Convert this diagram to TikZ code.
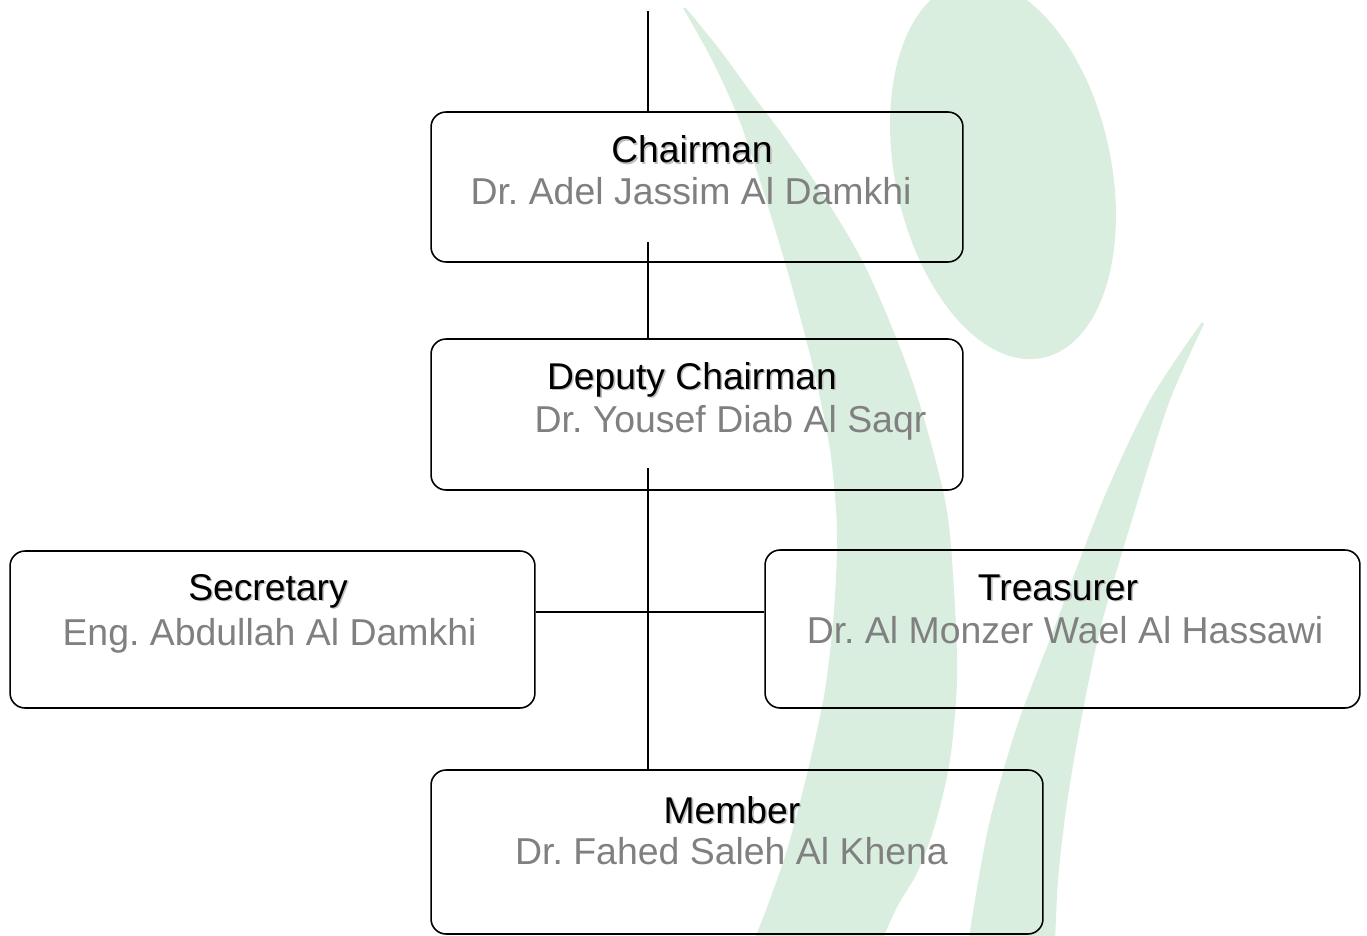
\documentclass[tikz,border=0pt]{standalone}
\usepackage{fontspec}
\setmainfont{Liberation Sans}
\frenchspacing
\definecolor{leaf}{RGB}{217,238,223}
\definecolor{namegray}{RGB}{128,128,128}
\newcommand{\shadowed}[1]{\makebox[0pt][l]{\kern0.9pt\raisebox{-0.9pt}{\color{black!25}#1}}#1}
\tikzset{
  post/.style={draw, line width=0.9pt, rounded corners=0.3cm, inner sep=0pt},
  role/.style={anchor=base, inner sep=0pt, font=\fontsize{21.2}{25}\selectfont},
  who/.style={anchor=base, inner sep=0pt, text=namegray, font=\fontsize{21.3}{26}\selectfont},
  link/.style={line width=0.85pt}
}
\begin{document}
\begin{tikzpicture}[x=0.02cm, y=-0.02cm]
\useasboundingbox (0,0) rectangle (1367,936);
% watermark
\fill[leaf, rotate around={12:(1003,170)}] (1003,170) ellipse (108 and 192);
\fill[leaf] plot[smooth] coordinates {(683,8) (712,60) (740,122) (766,200) (790,280) (813,367) (830,450) (837,530) (834,610) (825,690) (808,770) (787,850) (766,910) (752,945)}
  -- plot[smooth] coordinates {(880,945) (897,907) (917,873) (935,825) (950,760) (957,680) (954,590) (945,500) (912,380) (866,268) (820,190) (785,138) (755,98) (720,50) (686,8)} -- cycle;
\fill[leaf] plot[smooth] coordinates {(1202,322) (1150,400) (1103,500) (1055,626) (1017,726) (990,820) (975,900) (968,945)}
  -- plot[smooth] coordinates {(1055,945) (1058,880) (1066,810) (1080,726) (1101,626) (1138,500) (1170,400) (1204,324)} -- cycle;
% boxes
\node[post, minimum width=10.64cm, minimum height=3cm] (chair) at (697,187) {};
\node[post, minimum width=10.64cm, minimum height=3.02cm] (deputy) at (697,414.5) {};
\node[post, minimum width=10.5cm, minimum height=3.14cm] (secr) at (272.5,629.5) {};
\node[post, minimum width=11.9cm, minimum height=3.16cm] (treas) at (1062.5,629) {};
\node[post, minimum width=12.24cm, minimum height=3.28cm] (member) at (737,852) {};
% texts
\node[role] (chairT) at (692,163) {\shadowed{Chairman}};
\node[who] (chairN) at (691,205) {Dr. Adel Jassim Al Damkhi};
\node[role] (deputyT) at (692,389) {\shadowed{Deputy Chairman}};
\node[who] (deputyN) at (730.5,432) {Dr. Yousef Diab Al Saqr};
\node[role] (secrT) at (268,600) {\shadowed{Secretary}};
\node[who] (secrN) at (269.5,645) {Eng. Abdullah Al Damkhi};
\node[role] (treasT) at (1058,600) {\shadowed{Treasurer}};
\node[who] (treasN) at (1065,643) {Dr. Al Monzer Wael Al Hassawi};
\node[role] (memberT) at (732,823) {\shadowed{Member}};
\node[who] (memberN) at (731.5,864) {Dr. Fahed Saleh Al Khena};
% lines
\coordinate (top) at (648,11);
\coordinate (chairEnd) at (648,242);
\coordinate (deputyEnd) at (648,468);
\coordinate (branch) at (648,612);
\draw[link] (top) -- (top |- chair.north);
\draw[link] (chairEnd) -- (chairEnd |- deputy.north);
\draw[link] (deputyEnd) -- (deputyEnd |- member.north);
\draw[link] (secr.east |- branch) -- (treas.west |- branch);
\end{tikzpicture}
\end{document}
